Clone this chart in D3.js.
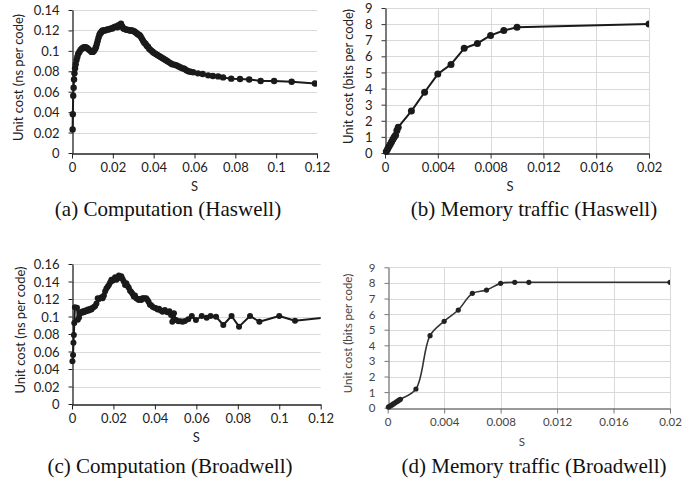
<!DOCTYPE html>
<html>
<head>
<meta charset="utf-8">
<script src="https://cdn.jsdelivr.net/npm/d3@7"></script>
<style>
  body { margin: 0; background: #fff; }
  svg { display: block; }
  .tick text { font-family: Lato, "Open Sans", sans-serif; }
</style>
</head>
<body>
<div id="chart"></div>
<script>
// (a) computation, Haswell
var compHaswellS = [0.0003,0.0004,0.0006,0.0008,0.0010,0.0012,0.0015,0.0018,0.0022,0.0026,0.0030,0.0036,0.0042,0.0048,0.0054,0.0060,0.0066,0.0072,0.0078,0.0084,0.0090,0.0096,0.0102,0.0108,0.0114,0.0118,0.0122,0.0126,0.0130,0.0134,0.0138,0.0142,0.0146,0.0150,0.0156,0.0162,0.0168,0.0174,0.0180,0.0186,0.0192,0.0198,0.0204,0.0210,0.0216,0.0222,0.0228,0.0234,0.0240,0.0246,0.0252,0.0258,0.0264,0.0270,0.0276,0.0282,0.0288,0.0294,0.0300,0.0306,0.0312,0.0318,0.0324,0.0330,0.0336,0.0342,0.0348,0.0354,0.0360,0.0366,0.0372,0.0378,0.0384,0.0390,0.0396,0.0402,0.0410,0.0418,0.0426,0.0434,0.0442,0.0450,0.0458,0.0466,0.0474,0.0482,0.0490,0.0500,0.0510,0.0520,0.0530,0.0540,0.0550,0.0560,0.0570,0.0580,0.0593,0.0617,0.0640,0.0667,0.0690,0.0716,0.0740,0.0780,0.0823,0.0868,0.0924,0.0990,0.1076,0.1190];
var compHaswellCost = [0.023,0.038,0.056,0.064,0.072,0.078,0.083,0.087,0.091,0.094,0.097,0.099,0.101,0.102,0.103,0.1035,0.1035,0.103,0.102,0.101,0.100,0.099,0.099,0.100,0.102,0.104,0.107,0.110,0.113,0.1155,0.117,0.118,0.119,0.120,0.120,0.120,0.1205,0.121,0.121,0.1215,0.122,0.122,0.123,0.1235,0.124,0.123,0.125,0.124,0.1265,0.124,0.122,0.1215,0.121,0.1205,0.1205,0.120,0.120,0.120,0.1195,0.119,0.118,0.117,0.116,0.1155,0.114,0.112,0.110,0.108,0.107,0.105,0.104,0.102,0.101,0.100,0.099,0.098,0.097,0.096,0.095,0.094,0.093,0.092,0.091,0.090,0.089,0.088,0.087,0.0865,0.086,0.085,0.084,0.083,0.0825,0.081,0.080,0.0795,0.079,0.078,0.0774,0.076,0.0754,0.075,0.074,0.0728,0.0725,0.072,0.0705,0.0705,0.0698,0.068];

// (b) memory traffic, Haswell
var memHaswellS = [0.0001,0.0002,0.0003,0.0004,0.0005,0.0006,0.0007,0.0008,0.0009,0.001,0.002,0.003,0.004,0.005,0.006,0.007,0.008,0.009,0.01,0.02];
var memHaswellCost = [0.1,0.25,0.4,0.55,0.7,0.85,1.0,1.1,1.4,1.6,2.6,3.77,4.9,5.5,6.5,6.8,7.3,7.6,7.8,8.0];

// (c) computation, Broadwell
var compBroadwellS = [0.0002,0.0005,0.0007,0.0009,0.0011,0.0014,0.0024,0.0028,0.0034,0.0040,0.0046,0.0052,0.0058,0.0064,0.0070,0.0076,0.0082,0.0088,0.0094,0.0100,0.0106,0.0112,0.0118,0.0124,0.0130,0.0136,0.0142,0.0148,0.0154,0.0160,0.0166,0.0172,0.0178,0.0184,0.0190,0.0196,0.0202,0.0208,0.0214,0.0220,0.0226,0.0232,0.0238,0.0244,0.0250,0.0256,0.0262,0.0268,0.0274,0.0280,0.0286,0.0292,0.0298,0.0304,0.0310,0.0316,0.0322,0.0328,0.0334,0.0340,0.0346,0.0352,0.0358,0.0364,0.0370,0.0376,0.0382,0.0390,0.0398,0.0406,0.0413,0.0420,0.0428,0.0437,0.0448,0.0460,0.0470,0.0478,0.0484,0.0492,0.0502,0.0513,0.0524,0.0534,0.0545,0.0561,0.0578,0.0598,0.0626,0.0650,0.0669,0.0695,0.0730,0.0770,0.0806,0.0859,0.0904,0.1000,0.1076,0.1250];
var compBroadwellCost = [0.0488,0.056,0.070,0.079,0.0926,0.1105,0.110,0.0964,0.099,0.105,0.104,0.106,0.105,0.107,0.106,0.108,0.107,0.109,0.108,0.110,0.111,0.112,0.115,0.121,0.120,0.121,0.122,0.121,0.124,0.129,0.132,0.134,0.136,0.139,0.142,0.141,0.143,0.1448,0.142,0.145,0.147,0.144,0.146,0.143,0.140,0.136,0.138,0.135,0.133,0.1295,0.128,0.126,0.123,0.124,0.121,0.120,0.119,0.120,0.119,0.121,0.121,0.1205,0.121,0.119,0.1165,0.1135,0.113,0.111,0.110,0.1095,0.108,0.109,0.107,0.1055,0.1074,0.105,0.106,0.1017,0.094,0.1036,0.096,0.0945,0.0945,0.094,0.0948,0.0968,0.1006,0.096,0.1006,0.0987,0.1006,0.0998,0.0903,0.1006,0.0884,0.1006,0.094,0.1006,0.0952,0.0995];

// (d) memory traffic, Broadwell
var memBroadwellS = [0.00005,0.0001,0.0002,0.0003,0.0004,0.0005,0.0006,0.0007,0.0008,0.0009,0.002,0.003,0.004,0.005,0.006,0.007,0.008,0.009,0.01,0.02];
var memBroadwellCost = [0.04,0.07,0.12,0.18,0.24,0.3,0.36,0.42,0.48,0.54,1.2,4.62,5.54,6.26,7.33,7.54,7.97,8.04,8.04,8.04];

var captions = ["(a) Computation (Haswell)", "(b) Memory traffic (Haswell)",
                "(c) Computation (Broadwell)", "(d) Memory traffic (Broadwell)"];

var svg = d3.select("#chart").append("svg")
    .attr("width", 697)
    .attr("height", 482);

var fmt = function(d) { return String(+d.toFixed(4)); };

function panel(p) {
    var x = d3.scaleLinear().domain([0, p.xMax]).range([p.left, p.right]);
    var y = d3.scaleLinear().domain([0, p.yMax]).range([p.bottom, p.top]);
    var g = svg.append("g");

    var clipId = "clip" + p.id;
    g.append("clipPath").attr("id", clipId)
        .append("rect")
        .attr("x", p.left - 6).attr("y", p.top - 6)
        .attr("width", p.right - p.left + 6).attr("height", p.bottom - p.top + 12);

    // horizontal gridlines
    g.selectAll(".hgrid").data(p.yTicks.slice(1)).enter().append("line")
        .attr("x1", p.left).attr("x2", p.right)
        .attr("y1", function(d) { return Math.round(y(d)) + 0.5; })
        .attr("y2", function(d) { return Math.round(y(d)) + 0.5; })
        .attr("stroke", "#d9d9d9").attr("stroke-width", 1);
    if (p.vgrid) {
        g.selectAll(".vgrid").data(p.xTicks.slice(1)).enter().append("line")
            .attr("x1", function(d) { return Math.round(x(d)) + 0.5; })
            .attr("x2", function(d) { return Math.round(x(d)) + 0.5; })
            .attr("y1", p.top).attr("y2", p.bottom)
            .attr("stroke", "#d9d9d9").attr("stroke-width", 1);
    }

    var xAxis = d3.axisBottom(x).tickValues(p.xTicks).tickFormat(fmt).tickSize(5).tickSizeOuter(0).tickPadding(4);
    var yAxis = d3.axisLeft(y).tickValues(p.yTicks).tickFormat(fmt).tickSize(4).tickSizeOuter(0).tickPadding(9);

    var gx = g.append("g").attr("transform", "translate(0," + (Math.round(p.bottom) + 0.5) + ")").call(xAxis);
    var gy = g.append("g").attr("transform", "translate(" + (Math.round(p.left) + 0.5) + ",0)").call(yAxis);
    [gx, gy].forEach(function(a) {
        a.select(".domain").attr("stroke", p.axisColor).attr("stroke-width", 1.3);
        a.selectAll(".tick line").attr("stroke", p.axisColor);
        a.selectAll(".tick text").attr("fill", p.textColor)
            .style("font-size", p.fontSize + "px");
    });
    gy.selectAll(".tick text").attr("dy", "0.35em");

    // axis titles
    g.append("text")
        .attr("x", (p.left + p.right) / 2 + p.sShift)
        .attr("y", p.bottom + 38)
        .attr("text-anchor", "middle")
        .attr("fill", p.textColor)
        .style("font-family", "Lato, 'Open Sans', sans-serif")
        .style("font-size", p.fontSize + "px")
        .text("S");
    g.append("text")
        .attr("transform", "translate(" + p.titleX + "," + ((p.top + p.bottom) / 2 - 4) + ") rotate(-90)")
        .attr("text-anchor", "middle")
        .attr("fill", p.textColor)
        .style("font-family", "Lato, 'Open Sans', sans-serif")
        .style("font-size", p.titleSize + "px")
        .text(p.yTitle);

    var pts = p.s.map(function(s, i) { return [s, p.v[i]]; });
    var line = d3.line()
        .x(function(d) { return x(d[0]); })
        .y(function(d) { return y(d[1]); })
        .curve(p.curve);

    var plot = g.append("g").attr("clip-path", "url(#" + clipId + ")");
    plot.append("path")
        .datum(pts)
        .attr("fill", "none")
        .attr("stroke", p.lineColor)
        .attr("stroke-width", p.lineWidth)
        .attr("stroke-linejoin", "round")
        .attr("d", line);
    plot.selectAll("circle")
        .data(pts.filter(function(d) { return d[0] <= p.xMax; }))
        .enter().append("circle")
        .attr("cx", function(d) { return x(d[0]); })
        .attr("cy", function(d) { return y(d[1]); })
        .attr("r", p.r)
        .attr("fill", p.dotColor);

    svg.append("text")
        .attr("x", p.capX)
        .attr("y", p.capY)
        .attr("text-anchor", "middle")
        .attr("fill", "#111")
        .style("font-family", "'Liberation Serif', 'Times New Roman', serif")
        .style("font-size", "21px")
        .text(p.caption);
}

var ticks02 = [0, 0.02, 0.04, 0.06, 0.08, 0.1, 0.12];
var ticks004 = [0, 0.004, 0.008, 0.012, 0.016, 0.02];
var ticks9 = d3.range(0, 10);

panel({id: "a", s: compHaswellS, v: compHaswellCost, xMax: 0.12, yMax: 0.14,
    xTicks: ticks02, yTicks: [0, 0.02, 0.04, 0.06, 0.08, 0.1, 0.12, 0.14],
    left: 72, right: 317, top: 10, bottom: 153, vgrid: false,
    axisColor: "#222", textColor: "#222", fontSize: 13, titleSize: 13, sShift: 0,
    titleX: 23, yTitle: "Unit cost (ns per code)",
    curve: d3.curveLinear, lineColor: "#1a1a1a", lineWidth: 2, dotColor: "#1a1a1a", r: 3.2,
    caption: captions[0], capX: 168, capY: 216});

panel({id: "b", s: memHaswellS, v: memHaswellCost, xMax: 0.02, yMax: 9,
    xTicks: ticks004, yTicks: ticks9,
    left: 385, right: 649, top: 8, bottom: 153, vgrid: true,
    axisColor: "#333", textColor: "#222", fontSize: 13, titleSize: 13, sShift: -7,
    titleX: 353, yTitle: "Unit cost (bits per code)",
    curve: d3.curveLinear, lineColor: "#1a1a1a", lineWidth: 2, dotColor: "#1a1a1a", r: 3.5,
    caption: captions[1], capX: 534, capY: 216});

panel({id: "c", s: compBroadwellS, v: compBroadwellCost, xMax: 0.12, yMax: 0.16,
    xTicks: ticks02, yTicks: [0, 0.02, 0.04, 0.06, 0.08, 0.1, 0.12, 0.14, 0.16],
    left: 72, right: 320.7, top: 264, bottom: 404, vgrid: false,
    axisColor: "#222", textColor: "#222", fontSize: 13, titleSize: 13, sShift: 0,
    titleX: 25, yTitle: "Unit cost (ns per code)",
    curve: d3.curveLinear, lineColor: "#1a1a1a", lineWidth: 2, dotColor: "#1a1a1a", r: 3,
    caption: captions[2], capX: 170, capY: 473});

panel({id: "d", s: memBroadwellS, v: memBroadwellCost, xMax: 0.02, yMax: 9,
    xTicks: ticks004, yTicks: ticks9,
    left: 387.7, right: 670, top: 267.3, bottom: 407.7, vgrid: true,
    axisColor: "#777", textColor: "#444", fontSize: 11.5, titleSize: 11.5, sShift: -7,
    titleX: 352, yTitle: "Unit cost (bits per code)",
    curve: d3.curveCatmullRom.alpha(0.5), lineColor: "#333", lineWidth: 1.6, dotColor: "#222", r: 2.6,
    caption: captions[3], capX: 534, capY: 473});
</script>
</body>
</html>
